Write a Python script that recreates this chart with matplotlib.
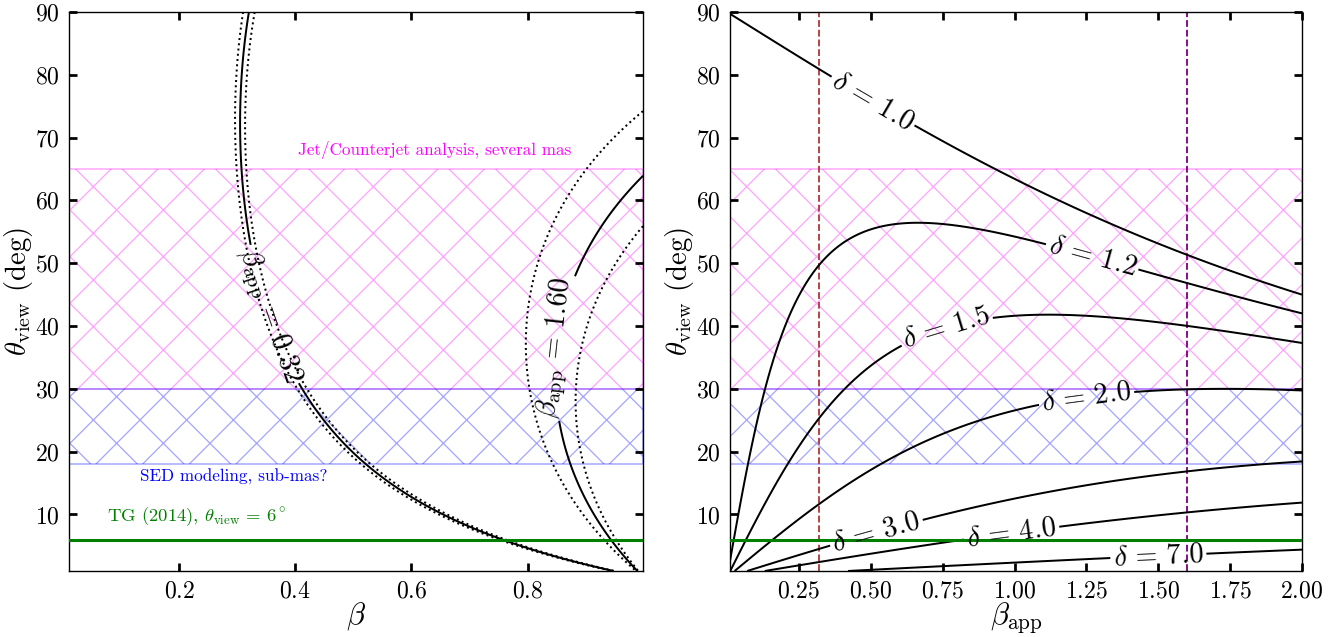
import numpy as np
import matplotlib
matplotlib.use('Agg')
import matplotlib.pyplot as plt

DPI = 140
S = 220 / DPI   # sizes below were tuned in "220 dpi points"

plt.rcParams['font.family'] = 'serif'
plt.rcParams['font.serif'] = ['cmr10']
plt.rcParams['mathtext.fontset'] = 'cm'
plt.rcParams['axes.formatter.use_mathtext'] = True
plt.rcParams['hatch.linewidth'] = 0.42 * S

# levels
beta_app_levels = [0.32, 1.60]
beta_app_err_levels = [0.31, 0.33, 1.32, 1.88]
delta_levels = [1.0, 1.2, 1.5, 2.0, 3.0, 4.0, 7.0]

jet_band = (30, 65)      # Jet/Counterjet analysis
sed_band = (18, 30)      # SED modeling
tg_theta = 6             # TG (2014)
bapp_lines = [0.32, 1.60]
bapp_line_colors = ['#b03a3a', '#800080']

left_ticks_x = [0.2, 0.4, 0.6, 0.8]
right_ticks_x = [0.25, 0.50, 0.75, 1.00, 1.25, 1.50, 1.75, 2.00]
ticks_y = [10, 20, 30, 40, 50, 60, 70, 80, 90]

# label positions (data coords)
left_label_pos = [(0.355, 41.6), (0.858, 36.5)]
right_label_pos = [(0.51, 76), (1.27, 51), (0.75, 41.5), (1.25, 28.7),
                   (0.52, 7.0), (0.99, 6.9), (1.50, 3.6)]


def bapp_field(beta, theta):
    th = np.radians(theta)
    return beta * np.sin(th) / (1 - beta * np.cos(th))


def delta_field(bapp, theta):
    th = np.radians(theta)
    beta = bapp / (np.sin(th) + bapp * np.cos(th))
    beta = np.where(beta < 1, beta, np.nan)
    gam = 1 / np.sqrt(1 - beta ** 2)
    return 1 / (gam * (1 - beta * np.cos(th)))


def bands(ax):
    ax.axhspan(*jet_band, facecolor='none', edgecolor='magenta', hatch='x',
               alpha=0.35, linewidth=0.5 * S, zorder=0)
    ax.axhspan(*sed_band, facecolor='none', edgecolor='blue', hatch='x',
               alpha=0.35, linewidth=0.5 * S, zorder=0)
    ax.axhline(tg_theta, color='green', linewidth=1.0 * S, zorder=3)


def style(ax):
    ax.tick_params(direction='in', length=2.6 * S, width=0.9 * S, top=True,
                   right=True, labelsize=7.8 * S, pad=3 * S)
    for s in ax.spines.values():
        s.set_linewidth(0.45 * S)
    ax.set_yticks(ticks_y)
    ax.set_ylim(1, 90)
    ax.set_ylabel(r'$\theta_{\rm view}$ (deg)', fontsize=9.4 * S, labelpad=0)


fig = plt.figure(figsize=(1343 / DPI, 637 / DPI), dpi=DPI)
ax1 = fig.add_axes([69 / 1343, 66 / 637, 574 / 1343, 559 / 637])
ax2 = fig.add_axes([730 / 1343, 66 / 637, 572 / 1343, 559 / 637])

# left panel: beta_app contours in beta-theta plane
beta = np.linspace(0.01, 0.999, 700)
theta = np.linspace(1, 90, 700)
B, T = np.meshgrid(beta, theta)
BA = bapp_field(B, T)

bands(ax1)
ax1.contour(B, T, BA, levels=beta_app_err_levels, colors='k',
            linewidths=0.65 * S, linestyles=':')
cs1 = ax1.contour(B, T, BA, levels=beta_app_levels, colors='k', linewidths=0.65 * S)
ax1.clabel(cs1, fmt={v: r'$\beta_{\rm app}\,=\,%.2f$' % v for v in cs1.levels},
           manual=left_label_pos, inline=True, fontsize=9.3 * S, inline_spacing=3)

ax1.text(0.64, 68, 'Jet/Counterjet analysis, several mas', color='magenta',
         fontsize=5.6 * S, ha='center', va='center')
ax1.text(0.294, 16, 'SED modeling, sub-mas?', color='blue',
         fontsize=5.6 * S, ha='center', va='center')
ax1.text(0.23, 9.6, r'TG (2014), $\theta_{\rm view}\,=\,6^\circ$', color='green',
         fontsize=6.1 * S, ha='center', va='center')

ax1.set_xlim(0.01, 0.999)
ax1.set_xticks(left_ticks_x)
ax1.set_xlabel(r'$\beta$', fontsize=10 * S, labelpad=-1)
style(ax1)

# right panel: Doppler factor contours in beta_app-theta plane
bapp = np.linspace(0.01, 2.0, 700)
B2, T2 = np.meshgrid(bapp, theta)
D = delta_field(B2, T2)

bands(ax2)
for xv, c in zip(bapp_lines, bapp_line_colors):
    ax2.axvline(xv, color=c, linestyle='--', linewidth=0.6 * S, zorder=2)
cs2 = ax2.contour(B2, T2, D, levels=delta_levels, colors='k', linewidths=0.65 * S)
ax2.clabel(cs2, fmt={v: r'$\delta\,=\,%.1f$' % v for v in cs2.levels},
           manual=right_label_pos, inline=True, fontsize=9.3 * S, inline_spacing=3)

ax2.set_xlim(0.01, 2.0)
ax2.set_xticks(right_ticks_x)
ax2.set_xlabel(r'$\beta_{\rm app}$', fontsize=10 * S, labelpad=-1)
style(ax2)

fig.savefig('out.png', dpi=DPI)
